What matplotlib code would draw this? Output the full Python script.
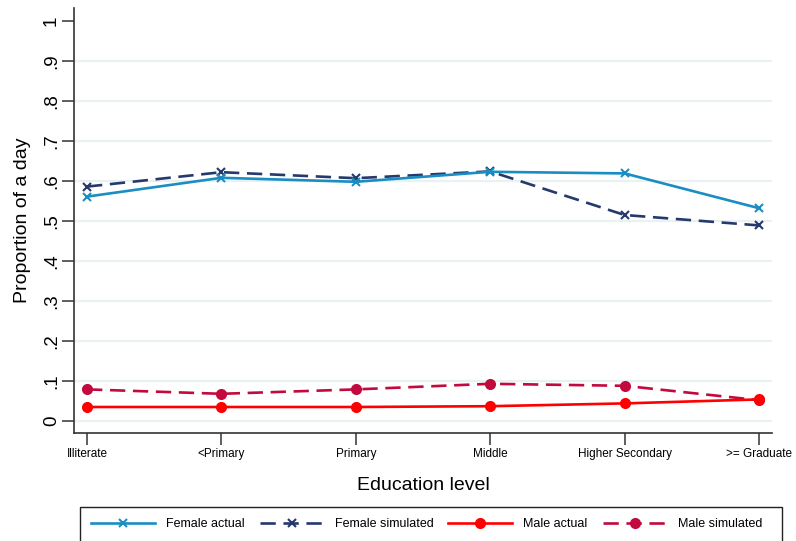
import matplotlib
matplotlib.use("Agg")
import matplotlib.pyplot as plt
from matplotlib.patches import Rectangle

plt.rcParams["font.family"] = ["Liberation Sans", "DejaVu Sans"]

# Education categories on the x axis
categories = ["Illiterate", "<Primary", "Primary", "Middle", "Higher Secondary", ">= Graduate"]

# Proportion of a day, by education level
female_actual = [0.561, 0.608, 0.598, 0.623, 0.619, 0.532]
female_simulated = [0.586, 0.622, 0.607, 0.624, 0.515, 0.489]
male_actual = [0.035, 0.035, 0.035, 0.037, 0.044, 0.054]
male_simulated = [0.079, 0.068, 0.079, 0.093, 0.088, 0.052]

y_ticks = [0, 0.1, 0.2, 0.3, 0.4, 0.5, 0.6, 0.7, 0.8, 0.9, 1.0]
y_tick_labels = ["0", ".1", ".2", ".3", ".4", ".5", ".6", ".7", ".8", ".9", "1"]

W, H = 796, 541
fig = plt.figure(figsize=(W / 100, H / 100), dpi=100)
ax = fig.add_axes([74 / W, 1 - 433 / H, (772 - 74) / W, (433 - 8) / H])

x = list(range(len(categories)))
lw = 1.9
dash = (5.8, 2.9)

ax.plot(x, female_actual, color="#1a8dc3", lw=lw, marker="x", ms=5.5, mew=1.5,
        label="Female actual", zorder=4)
ax.plot(x, female_simulated, color="#26396d", lw=lw, marker="x", ms=5.5, mew=1.5,
        dashes=dash, label="Female simulated", zorder=3)
ax.plot(x, male_actual, color="#ff0000", lw=lw, marker="o", ms=8, mew=0,
        label="Male actual", zorder=4)
ax.plot(x, male_simulated, color="#c20a3e", lw=lw, marker="o", ms=8, mew=0,
        dashes=dash, label="Male simulated", zorder=3)

ax.set_xlim(-0.097, len(categories) - 1 + 0.097)
ax.set_ylim(-0.03, 1.0325)

ax.set_xticks(x)
ax.set_xticklabels(categories, fontsize=8.5)
ax.set_yticks(y_ticks)
ax.set_yticklabels(y_tick_labels, fontsize=13.5, rotation=90, va="center")

ax.tick_params(axis="both", direction="out", length=8.5, width=1.1, color="#333333")
ax.tick_params(axis="x", pad=2)
ax.tick_params(axis="y", pad=1.5)

# horizontal grid, no line at the top value
for v in y_ticks[:-1]:
    ax.axhline(v, color="#eaf1f3", lw=1.6, zorder=1)

for side in ("top", "right"):
    ax.spines[side].set_visible(False)
for side in ("left", "bottom"):
    ax.spines[side].set_color("#333333")
    ax.spines[side].set_linewidth(1.2)

ax.set_ylabel("Proportion of a day", fontsize=14)
ax.yaxis.set_label_coords(-0.062, 0.5)
ax.set_xlabel("Education level", fontsize=14)
ax.xaxis.set_label_coords(0.5, -0.103)

# legend in a frame along the bottom edge
fig.patches.append(Rectangle((80 / W, -0.05), (782 - 80) / W, 0.05 + 1 - 507 / H,
                             transform=fig.transFigure, fill=False,
                             edgecolor="#222222", lw=1.0))
fig.legend(loc="center left", bbox_to_anchor=(91 / W, 1 - 524 / H), ncol=4,
           frameon=False, fontsize=9, handlelength=5.1, handletextpad=0.9,
           columnspacing=1.2, borderpad=0, borderaxespad=0, numpoints=1)

fig.savefig("out.png", dpi=100)
